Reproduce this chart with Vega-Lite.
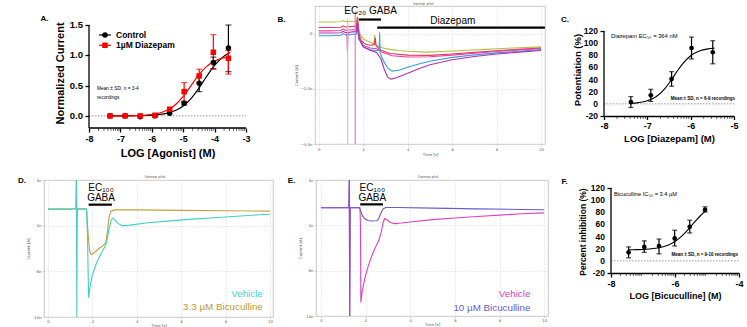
{
"$schema": "https://vega.github.io/schema/vega-lite/v6.json",
"padding": 0,
"background": "white",
"config": {"font": "Liberation Sans", "view": {"stroke": null}},
"datasets": {
"minor": [{"v":-7.699},{"v":-7.523},{"v":-7.398},{"v":-7.301},{"v":-7.222},{"v":-7.155},{"v":-7.097},{"v":-7.046},{"v":-6.699},{"v":-6.523},{"v":-6.398},{"v":-6.301},{"v":-6.222},{"v":-6.155},{"v":-6.097},{"v":-6.046},{"v":-5.699},{"v":-5.523},{"v":-5.398},{"v":-5.301},{"v":-5.222},{"v":-5.155},{"v":-5.097},{"v":-5.046},{"v":-4.699},{"v":-4.523},{"v":-4.398},{"v":-4.301},{"v":-4.222},{"v":-4.155},{"v":-4.097},{"v":-4.046},{"v":-3.699},{"v":-3.523},{"v":-3.398},{"v":-3.301},{"v":-3.222},{"v":-3.155},{"v":-3.097},{"v":-3.046}],
"pctLabels": [{"y":-20,"l":"-20"},{"y":0,"l":"0"},{"y":20,"l":"20"},{"y":40,"l":"40"},{"y":60,"l":"60"},{"y":80,"l":"80"},{"y":100,"l":"100"},{"y":120,"l":"120"}],
"A_pts": [{"x":-7.33,"y":0.0,"s":"Control"},{"x":-6.85,"y":0.0,"s":"Control"},{"x":-6.37,"y":-0.015,"s":"Control"},{"x":-5.9,"y":0.0,"s":"Control"},{"x":-5.43,"y":0.045,"s":"Control"},{"x":-4.97,"y":0.21,"s":"Control"},{"x":-4.49,"y":0.54,"s":"Control"},{"x":-4.04,"y":0.88,"s":"Control"},{"x":-3.56,"y":1.12,"s":"Control"},
{"x":-7.33,"y":0.0,"s":"1µM Diazepam"},{"x":-6.85,"y":0.0,"s":"1µM Diazepam"},{"x":-6.37,"y":0.0,"s":"1µM Diazepam"},{"x":-5.9,"y":0.01,"s":"1µM Diazepam"},{"x":-5.43,"y":0.11,"s":"1µM Diazepam"},{"x":-4.97,"y":0.4,"s":"1µM Diazepam"},{"x":-4.49,"y":0.66,"s":"1µM Diazepam"},{"x":-4.04,"y":1.05,"s":"1µM Diazepam"},{"x":-3.56,"y":0.95,"s":"1µM Diazepam"}],
"A_leg": [{"x":-7.49,"x1":-7.68,"x2":-7.3,"lx":-7.14,"y":1.335,"s":"Control"},{"x":-7.49,"x1":-7.68,"x2":-7.3,"lx":-7.14,"y":1.165,"s":"1µM Diazepam"}],
"A_err": [{"x":-4.97,"lo":0.18,"hi":0.24,"s":"Control"},{"x":-4.49,"lo":0.4,"hi":0.66,"s":"Control"},{"x":-4.04,"lo":0.78,"hi":0.97,"s":"Control"},{"x":-3.56,"lo":0.73,"hi":1.5,"s":"Control"},
{"x":-4.97,"lo":0.22,"hi":0.55,"s":"1µM Diazepam"},{"x":-4.49,"lo":0.55,"hi":0.77,"s":"1µM Diazepam"},{"x":-4.04,"lo":0.77,"hi":1.34,"s":"1µM Diazepam"},{"x":-3.56,"lo":0.69,"hi":1.08,"s":"1µM Diazepam"}],
"A_fit_c": [{"x":-7.4,"y":0.0},{"x":-7.0,"y":0.001},{"x":-6.5,"y":0.003},{"x":-6.0,"y":0.012},{"x":-5.75,"y":0.024},{"x":-5.5,"y":0.046},{"x":-5.25,"y":0.088},{"x":-5.0,"y":0.164},{"x":-4.75,"y":0.286},{"x":-4.5,"y":0.457},{"x":-4.25,"y":0.654},{"x":-4.0,"y":0.833},{"x":-3.75,"y":0.966},{"x":-3.5,"y":1.05}],
"A_fit_d": [{"x":-7.4,"y":0.0},{"x":-7.0,"y":0.001},{"x":-6.5,"y":0.005},{"x":-6.0,"y":0.023},{"x":-5.75,"y":0.048},{"x":-5.5,"y":0.096},{"x":-5.25,"y":0.183},{"x":-5.0,"y":0.321},{"x":-4.75,"y":0.5},{"x":-4.5,"y":0.679},{"x":-4.25,"y":0.817},{"x":-4.0,"y":0.904},{"x":-3.75,"y":0.952},{"x":-3.5,"y":0.976}],
"C_pts": [{"x":-7.38,"y":3,"lo":-6,"hi":12},{"x":-6.92,"y":14,"lo":4,"hi":24},{"x":-6.44,"y":41,"lo":29,"hi":53},{"x":-5.98,"y":92,"lo":74,"hi":110},{"x":-5.49,"y":85,"lo":66,"hi":104}],
"C_fit": [{"x":-7.4,"y":0.84},{"x":-7.2,"y":2.08},{"x":-7.0,"y":5.06},{"x":-6.8,"y":11.74},{"x":-6.6,"y":24.77},{"x":-6.5,"y":33.97},{"x":-6.4,"y":44.37},{"x":-6.3,"y":54.97},{"x":-6.2,"y":64.74},{"x":-6.0,"y":79.23},{"x":-5.8,"y":86.98},{"x":-5.6,"y":90.51},{"x":-5.45,"y":91.73}],
"F_pts": [{"x":-7.45,"y":14,"lo":5,"hi":23},{"x":-6.96,"y":23,"lo":14,"hi":33},{"x":-6.5,"y":24.5,"lo":11.5,"hi":36},{"x":-6.01,"y":37,"lo":24.5,"hi":50.5},{"x":-5.54,"y":56,"lo":46,"hi":67},{"x":-5.06,"y":84,"lo":80.5,"hi":89}],
"F_fit": [{"x":-7.45,"y":18.2},{"x":-7.2,"y":18.5},{"x":-7.0,"y":18.8},{"x":-6.8,"y":19.5},{"x":-6.6,"y":20.7},{"x":-6.4,"y":22.8},{"x":-6.2,"y":26.3},{"x":-6.0,"y":31.9},{"x":-5.8,"y":40.2},{"x":-5.6,"y":51.1},{"x":-5.4,"y":63.3},{"x":-5.2,"y":74.7},{"x":-5.05,"y":81.9}],
"B_tr": [
{"k":"yg","t":0,"v":0.42},{"k":"yg","t":0.5,"v":0.42},{"k":"yg","t":1.0,"v":0.43},{"k":"yg","t":1.1,"v":0.47},{"k":"yg","t":1.2,"v":0.44},{"k":"yg","t":1.7,"v":0.45},{"k":"yg","t":1.74,"v":0.62},{"k":"yg","t":1.78,"v":0.3},{"k":"yg","t":1.85,"v":0.0},{"k":"yg","t":2.0,"v":-0.2},{"k":"yg","t":2.3,"v":-0.3},{"k":"yg","t":2.48,"v":-0.37},{"k":"yg","t":2.52,"v":-0.05},{"k":"yg","t":2.56,"v":-0.4},{"k":"yg","t":2.7,"v":-0.46},{"k":"yg","t":2.9,"v":-0.52},{"k":"yg","t":3.2,"v":-0.57},{"k":"yg","t":3.6,"v":-0.61},{"k":"yg","t":4.0,"v":-0.64},{"k":"yg","t":4.8,"v":-0.67},{"k":"yg","t":5.5,"v":-0.65},{"k":"yg","t":6.5,"v":-0.61},{"k":"yg","t":7.5,"v":-0.57},{"k":"yg","t":8.5,"v":-0.53},{"k":"yg","t":9.5,"v":-0.5},{"k":"yg","t":10.0,"v":-0.48},
{"k":"red","t":0,"v":0.22},{"k":"red","t":0.5,"v":0.22},{"k":"red","t":1.0,"v":0.23},{"k":"red","t":1.1,"v":0.28},{"k":"red","t":1.2,"v":0.24},{"k":"red","t":1.7,"v":0.27},{"k":"red","t":1.74,"v":0.58},{"k":"red","t":1.78,"v":0.1},{"k":"red","t":1.9,"v":-0.25},{"k":"red","t":2.1,"v":-0.38},{"k":"red","t":2.3,"v":-0.42},{"k":"red","t":2.5,"v":-0.4},{"k":"red","t":2.54,"v":-0.15},{"k":"red","t":2.58,"v":-0.45},{"k":"red","t":2.8,"v":-0.6},{"k":"red","t":3.2,"v":-0.72},{"k":"red","t":4.0,"v":-0.78},{"k":"red","t":5.0,"v":-0.79},{"k":"red","t":6.0,"v":-0.74},{"k":"red","t":7.0,"v":-0.68},{"k":"red","t":8.0,"v":-0.62},{"k":"red","t":9.0,"v":-0.57},{"k":"red","t":10.0,"v":-0.52},
{"k":"hot","t":0,"v":0.1},{"k":"hot","t":0.5,"v":0.1},{"k":"hot","t":1.0,"v":0.11},{"k":"hot","t":1.1,"v":0.17},{"k":"hot","t":1.2,"v":0.12},{"k":"hot","t":1.7,"v":0.15},{"k":"hot","t":1.74,"v":0.5},{"k":"hot","t":1.8,"v":-0.1},{"k":"hot","t":2.0,"v":-0.42},{"k":"hot","t":2.3,"v":-0.52},{"k":"hot","t":2.6,"v":-0.55},{"k":"hot","t":2.8,"v":-0.66},{"k":"hot","t":3.3,"v":-0.8},{"k":"hot","t":4.0,"v":-0.85},{"k":"hot","t":5.0,"v":-0.84},{"k":"hot","t":6.0,"v":-0.78},{"k":"hot","t":7.0,"v":-0.71},{"k":"hot","t":8.0,"v":-0.65},{"k":"hot","t":9.0,"v":-0.59},{"k":"hot","t":10.0,"v":-0.55},
{"k":"blue","t":0,"v":-0.08},{"k":"blue","t":0.5,"v":-0.08},{"k":"blue","t":1.0,"v":-0.06},{"k":"blue","t":1.1,"v":0.0},{"k":"blue","t":1.2,"v":-0.05},{"k":"blue","t":1.7,"v":-0.02},{"k":"blue","t":1.74,"v":0.3},{"k":"blue","t":1.8,"v":-0.2},{"k":"blue","t":2.0,"v":-0.48},{"k":"blue","t":2.3,"v":-0.58},{"k":"blue","t":2.6,"v":-0.62},{"k":"blue","t":2.72,"v":-0.6},{"k":"blue","t":2.74,"v":0.05},{"k":"blue","t":2.76,"v":-0.7},{"k":"blue","t":2.9,"v":-0.98},{"k":"blue","t":3.1,"v":-1.24},{"k":"blue","t":3.3,"v":-1.36},{"k":"blue","t":3.6,"v":-1.33},{"k":"blue","t":4.0,"v":-1.22},{"k":"blue","t":4.5,"v":-1.1},{"k":"blue","t":5.0,"v":-1.0},{"k":"blue","t":6.0,"v":-0.86},{"k":"blue","t":7.0,"v":-0.77},{"k":"blue","t":8.0,"v":-0.7},{"k":"blue","t":9.0,"v":-0.64},{"k":"blue","t":10.0,"v":-0.58},
{"k":"pur","t":0,"v":0.02},{"k":"pur","t":0.5,"v":0.02},{"k":"pur","t":1.0,"v":0.03},{"k":"pur","t":1.1,"v":0.08},{"k":"pur","t":1.2,"v":0.04},{"k":"pur","t":1.27,"v":0.04},{"k":"pur","t":1.29,"v":-0.65},{"k":"pur","t":1.31,"v":0.04},{"k":"pur","t":1.7,"v":0.08},{"k":"pur","t":1.74,"v":0.4},{"k":"pur","t":1.8,"v":-0.15},{"k":"pur","t":2.0,"v":-0.48},{"k":"pur","t":2.3,"v":-0.6},{"k":"pur","t":2.6,"v":-0.68},{"k":"pur","t":2.8,"v":-0.92},{"k":"pur","t":2.95,"v":-1.3},{"k":"pur","t":3.1,"v":-1.58},{"k":"pur","t":3.25,"v":-1.65},{"k":"pur","t":3.5,"v":-1.6},{"k":"pur","t":4.0,"v":-1.44},{"k":"pur","t":4.5,"v":-1.27},{"k":"pur","t":5.0,"v":-1.13},{"k":"pur","t":6.0,"v":-0.95},{"k":"pur","t":7.0,"v":-0.83},{"k":"pur","t":8.0,"v":-0.74},{"k":"pur","t":9.0,"v":-0.67},{"k":"pur","t":10.0,"v":-0.61},
{"k":"art1","t":1.3,"v":0.55},{"k":"art1","t":1.3,"v":-4.0},
{"k":"art2","t":1.64,"v":0.8},{"k":"art2","t":1.64,"v":-4.0}],
"D_tr": [
{"k":"bic","t":0,"v":-0.55},{"k":"bic","t":1.0,"v":-0.55},{"k":"bic","t":1.26,"v":-0.5},{"k":"bic","t":1.28,"v":2.0},{"k":"bic","t":1.3,"v":-1.5},{"k":"bic","t":1.32,"v":-0.55},{"k":"bic","t":1.74,"v":-0.55},{"k":"bic","t":1.8,"v":-2.5},{"k":"bic","t":1.87,"v":-4.2},{"k":"bic","t":1.95,"v":-4.55},{"k":"bic","t":2.1,"v":-4.35},{"k":"bic","t":2.3,"v":-4.0},{"k":"bic","t":2.5,"v":-3.7},{"k":"bic","t":2.6,"v":-3.5},{"k":"bic","t":2.68,"v":-2.5},{"k":"bic","t":2.75,"v":-1.3},{"k":"bic","t":2.82,"v":-0.75},{"k":"bic","t":3.0,"v":-0.62},{"k":"bic","t":4.0,"v":-0.62},{"k":"bic","t":6.0,"v":-0.66},{"k":"bic","t":8.0,"v":-0.7},{"k":"bic","t":10.0,"v":-0.73},
{"k":"veh","t":0,"v":-0.55},{"k":"veh","t":1.0,"v":-0.55},{"k":"veh","t":1.26,"v":-0.5},{"k":"veh","t":1.28,"v":2.0},{"k":"veh","t":1.3,"v":-10.0},{"k":"veh","t":1.32,"v":-0.5},{"k":"veh","t":1.74,"v":-0.55},{"k":"veh","t":1.78,"v":-3.0},{"k":"veh","t":1.83,"v":-8.3},{"k":"veh","t":1.9,"v":-7.3},{"k":"veh","t":2.0,"v":-6.3},{"k":"veh","t":2.2,"v":-5.2},{"k":"veh","t":2.4,"v":-4.4},{"k":"veh","t":2.55,"v":-3.9},{"k":"veh","t":2.65,"v":-3.4},{"k":"veh","t":2.75,"v":-2.3},{"k":"veh","t":2.85,"v":-1.5},{"k":"veh","t":2.92,"v":-1.35},{"k":"veh","t":3.0,"v":-1.45},{"k":"veh","t":3.15,"v":-1.8},{"k":"veh","t":3.35,"v":-2.0},{"k":"veh","t":3.7,"v":-1.95},{"k":"veh","t":4.5,"v":-1.75},{"k":"veh","t":5.5,"v":-1.58},{"k":"veh","t":6.5,"v":-1.43},{"k":"veh","t":7.5,"v":-1.3},{"k":"veh","t":8.5,"v":-1.17},{"k":"veh","t":9.5,"v":-1.05},{"k":"veh","t":10.0,"v":-1.0}],
"E_tr": [
{"k":"veh","t":0,"v":-0.45},{"k":"veh","t":1.0,"v":-0.45},{"k":"veh","t":1.25,"v":-0.42},{"k":"veh","t":1.27,"v":2.0},{"k":"veh","t":1.29,"v":-10.0},{"k":"veh","t":1.31,"v":-0.45},{"k":"veh","t":1.75,"v":-0.45},{"k":"veh","t":1.77,"v":-2.0},{"k":"veh","t":1.79,"v":-8.8},{"k":"veh","t":1.85,"v":-7.8},{"k":"veh","t":2.0,"v":-6.4},{"k":"veh","t":2.15,"v":-5.4},{"k":"veh","t":2.3,"v":-4.6},{"k":"veh","t":2.45,"v":-3.9},{"k":"veh","t":2.6,"v":-3.3},{"k":"veh","t":2.7,"v":-2.6},{"k":"veh","t":2.78,"v":-1.8},{"k":"veh","t":2.85,"v":-1.4},{"k":"veh","t":2.95,"v":-1.5},{"k":"veh","t":3.1,"v":-1.75},{"k":"veh","t":3.3,"v":-1.85},{"k":"veh","t":3.6,"v":-1.8},{"k":"veh","t":4.0,"v":-1.7},{"k":"veh","t":5.0,"v":-1.5},{"k":"veh","t":6.0,"v":-1.35},{"k":"veh","t":7.0,"v":-1.22},{"k":"veh","t":8.0,"v":-1.1},{"k":"veh","t":9.0,"v":-0.98},{"k":"veh","t":10.0,"v":-0.9},
{"k":"bic","t":0,"v":-0.45},{"k":"bic","t":1.0,"v":-0.45},{"k":"bic","t":1.25,"v":-0.42},{"k":"bic","t":1.27,"v":2.0},{"k":"bic","t":1.29,"v":-10.0},{"k":"bic","t":1.31,"v":-0.45},{"k":"bic","t":1.72,"v":-0.45},{"k":"bic","t":1.78,"v":-0.7},{"k":"bic","t":1.85,"v":-1.1},{"k":"bic","t":1.95,"v":-1.4},{"k":"bic","t":2.1,"v":-1.58},{"k":"bic","t":2.3,"v":-1.62},{"k":"bic","t":2.5,"v":-1.6},{"k":"bic","t":2.58,"v":-1.45},{"k":"bic","t":2.68,"v":-0.95},{"k":"bic","t":2.78,"v":-0.55},{"k":"bic","t":2.9,"v":-0.42},{"k":"bic","t":3.5,"v":-0.42},{"k":"bic","t":5.0,"v":-0.48},{"k":"bic","t":7.0,"v":-0.55},{"k":"bic","t":9.0,"v":-0.6},{"k":"bic","t":10.0,"v":-0.62}]
},
"spacing": 2,
"resolve": {"scale": {"color": "independent", "shape": "independent"}, "legend": {"color": "independent", "shape": "independent"}},
"vconcat": [
{"hconcat": [
{
"width": 202, "height": 122,
"layer": [
{"data": {"values": [{"x": -10.8025, "y": 1.8796}, {"x": -2.5223, "y": -0.7447}]}, "mark": {"type": "text", "text": ".", "fontSize": 1, "opacity": 0},
 "encoding": {"x": {"field": "x", "type": "quantitative", "scale": {"domain": [-9.4331, -3], "nice": false, "zero": false}}, "y": {"field": "y", "type": "quantitative", "scale": {"domain": [-0.2, 1.8136], "nice": false, "zero": false}}}},
{"data": {"values": [{"x": -8, "x2": -3, "y": 0}]}, "mark": {"type": "rule", "strokeDash": [1.5, 1.5], "color": "#808080", "strokeWidth": 0.8},
 "encoding": {"x": {"field": "x", "type": "quantitative", "scale": {"domain": [-9.4331, -3], "nice": false, "zero": false}}, "x2": {"field": "x2"}, "y": {"field": "y", "type": "quantitative", "scale": {"domain": [-0.2, 1.8136], "nice": false, "zero": false}}}},
{"data": {"values": [{"x": -8, "x2": -3, "y": -0.2, "y2": -0.2}, {"x": -8, "x2": -8, "y": -0.2, "y2": 1.5}]}, "mark": {"type": "rule", "color": "black", "strokeWidth": 1.3},
 "encoding": {"x": {"field": "x", "type": "quantitative", "scale": {"domain": [-9.4331, -3], "nice": false, "zero": false}}, "x2": {"field": "x2"}, "y": {"field": "y", "type": "quantitative", "scale": {"domain": [-0.2, 1.8136], "nice": false, "zero": false}}, "y2": {"field": "y2"}}},
{"data": {"name": "minor"}, "mark": {"type": "tick", "orient": "vertical", "size": 3, "thickness": 0.8, "color": "black", "yOffset": 1.5},
 "encoding": {"x": {"field": "v", "type": "quantitative", "scale": {"domain": [-9.4331, -3], "nice": false, "zero": false}}, "y": {"datum": -0.2, "type": "quantitative", "scale": {"domain": [-0.2, 1.8136], "nice": false, "zero": false}}}},
{"data": {"values": [{"y": 0, "l": "0.0"}, {"y": 0.5, "l": "0.5"}, {"y": 1, "l": "1.0"}, {"y": 1.5, "l": "1.5"}]}, "mark": {"type": "text", "align": "right", "baseline": "middle", "dx": -6, "fontSize": 9.5, "fontWeight": "bold", "color": "black"},
 "encoding": {"x": {"datum": -8, "type": "quantitative", "scale": {"domain": [-9.4331, -3], "nice": false, "zero": false}}, "y": {"field": "y", "type": "quantitative", "scale": {"domain": [-0.2, 1.8136], "nice": false, "zero": false}}, "text": {"field": "l"}}},
{"data": {"name": "A_fit_c"}, "mark": {"type": "line", "color": "black", "strokeWidth": 1.2, "interpolate": "monotone"},
 "encoding": {
  "x": {"field": "x", "type": "quantitative", "scale": {"domain": [-9.4331, -3], "nice": false, "zero": false}, "axis": {"values": [-8, -7, -6, -5, -4, -3], "labelExpr": "'' + datum.value", "title": "LOG [Agonist] (M)", "titleX": 123.5, "domain": false, "tickColor": "black", "tickWidth": 1.3, "tickSize": 4, "labelFontSize": 9, "labelFontWeight": "bold", "labelColor": "black", "labelPadding": 2.5, "labelOverlap": false, "labelFlush": false, "titleFontSize": 11, "titleFontWeight": "bold", "titleColor": "black", "titlePadding": 4, "grid": false}},
  "y": {"field": "y", "type": "quantitative", "scale": {"domain": [-0.2, 1.8136], "nice": false, "zero": false}, "axis": {"values": [0, 0.5, 1, 1.5], "labels": false, "title": "Normalized Current", "titleY": 67, "offset": -45, "domain": false, "tickColor": "black", "tickWidth": 1.3, "tickSize": 4, "titleFontSize": 11, "titleFontWeight": "bold", "titleColor": "black", "titlePadding": 18.5, "grid": false}}}},
{"data": {"name": "A_fit_d"}, "mark": {"type": "line", "color": "#ff0000", "strokeWidth": 1.2, "interpolate": "monotone"},
 "encoding": {"x": {"field": "x", "type": "quantitative", "scale": {"domain": [-9.4331, -3], "nice": false, "zero": false}}, "y": {"field": "y", "type": "quantitative", "scale": {"domain": [-0.2, 1.8136], "nice": false, "zero": false}}}},
{"data": {"name": "A_leg"}, "mark": {"type": "rule", "strokeWidth": 1.2},
 "encoding": {"x": {"field": "x1", "type": "quantitative", "scale": {"domain": [-9.4331, -3], "nice": false, "zero": false}}, "x2": {"field": "x2"}, "y": {"field": "y", "type": "quantitative", "scale": {"domain": [-0.2, 1.8136], "nice": false, "zero": false}},
  "color": {"field": "s", "type": "nominal", "scale": {"domain": ["Control", "1µM Diazepam"], "range": ["black", "#ff0000"]}, "legend": null}}},
{"data": {"name": "A_err"}, "mark": {"type": "rule", "strokeWidth": 1.2},
 "encoding": {"x": {"field": "x", "type": "quantitative", "scale": {"domain": [-9.4331, -3], "nice": false, "zero": false}}, "y": {"field": "lo", "type": "quantitative", "scale": {"domain": [-0.2, 1.8136], "nice": false, "zero": false}}, "y2": {"field": "hi"},
  "color": {"field": "s", "type": "nominal", "scale": {"domain": ["Control", "1µM Diazepam"], "range": ["black", "#ff0000"]}, "legend": null}}},
{"data": {"name": "A_err"}, "mark": {"type": "tick", "orient": "horizontal", "size": 6, "thickness": 1.2},
 "encoding": {"x": {"field": "x", "type": "quantitative", "scale": {"domain": [-9.4331, -3], "nice": false, "zero": false}}, "y": {"field": "hi", "type": "quantitative", "scale": {"domain": [-0.2, 1.8136], "nice": false, "zero": false}},
  "color": {"field": "s", "type": "nominal", "scale": {"domain": ["Control", "1µM Diazepam"], "range": ["black", "#ff0000"]}, "legend": null}}},
{"data": {"name": "A_err"}, "mark": {"type": "tick", "orient": "horizontal", "size": 6, "thickness": 1.2},
 "encoding": {"x": {"field": "x", "type": "quantitative", "scale": {"domain": [-9.4331, -3], "nice": false, "zero": false}}, "y": {"field": "lo", "type": "quantitative", "scale": {"domain": [-0.2, 1.8136], "nice": false, "zero": false}},
  "color": {"field": "s", "type": "nominal", "scale": {"domain": ["Control", "1µM Diazepam"], "range": ["black", "#ff0000"]}, "legend": null}}},
{"data": {"name": "A_pts"}, "mark": {"type": "point", "filled": true, "size": 30, "opacity": 1},
 "encoding": {"x": {"field": "x", "type": "quantitative", "scale": {"domain": [-9.4331, -3], "nice": false, "zero": false}}, "y": {"field": "y", "type": "quantitative", "scale": {"domain": [-0.2, 1.8136], "nice": false, "zero": false}},
  "color": {"field": "s", "type": "nominal", "scale": {"domain": ["Control", "1µM Diazepam"], "range": ["black", "#ff0000"]}, "legend": null},
  "shape": {"field": "s", "type": "nominal", "scale": {"domain": ["Control", "1µM Diazepam"], "range": ["circle", "square"]}, "legend": null}}},
{"data": {"name": "A_leg"}, "mark": {"type": "point", "filled": true, "size": 30, "opacity": 1},
 "encoding": {"x": {"field": "x", "type": "quantitative", "scale": {"domain": [-9.4331, -3], "nice": false, "zero": false}}, "y": {"field": "y", "type": "quantitative", "scale": {"domain": [-0.2, 1.8136], "nice": false, "zero": false}},
  "color": {"field": "s", "type": "nominal", "scale": {"domain": ["Control", "1µM Diazepam"], "range": ["black", "#ff0000"]}, "legend": null},
  "shape": {"field": "s", "type": "nominal", "scale": {"domain": ["Control", "1µM Diazepam"], "range": ["circle", "square"]}, "legend": null}}},
{"data": {"name": "A_leg"}, "mark": {"type": "text", "align": "left", "baseline": "middle", "fontSize": 8.5, "fontWeight": "bold", "color": "black"},
 "encoding": {"x": {"field": "lx", "type": "quantitative", "scale": {"domain": [-9.4331, -3], "nice": false, "zero": false}}, "y": {"field": "y", "type": "quantitative", "scale": {"domain": [-0.2, 1.8136], "nice": false, "zero": false}}, "text": {"field": "s"}}},
{"data": {"values": [{"x": -7.745, "y": 0.444, "t": "Mean ± SD, n = 3-4"}, {"x": -7.745, "y": 0.295, "t": "recordings"}]}, "mark": {"type": "text", "align": "left", "baseline": "middle", "fontSize": 4.8, "color": "black"},
 "encoding": {"x": {"field": "x", "type": "quantitative", "scale": {"domain": [-9.4331, -3], "nice": false, "zero": false}}, "y": {"field": "y", "type": "quantitative", "scale": {"domain": [-0.2, 1.8136], "nice": false, "zero": false}}, "text": {"field": "t"}}},
{"data": {"values": [{"x": -9.417, "y": 1.591, "t": "A."}]}, "mark": {"type": "text", "align": "center", "baseline": "middle", "fontSize": 8, "fontWeight": "bold", "color": "black"},
 "encoding": {"x": {"field": "x", "type": "quantitative", "scale": {"domain": [-9.4331, -3], "nice": false, "zero": false}}, "y": {"field": "y", "type": "quantitative", "scale": {"domain": [-0.2, 1.8136], "nice": false, "zero": false}}, "text": {"field": "t"}}}
]
},
{
"width": 230, "height": 138,
"view": {"stroke": "#bdbdbd", "strokeWidth": 0.8},
"layer": [
{"data": {"values": [{"x": -2.42, "y": 1.1449}, {"x": 10.36, "y": -4.616}]}, "mark": {"type": "text", "text": ".", "fontSize": 1, "opacity": 0},
 "encoding": {"x": {"field": "x", "type": "quantitative", "scale": {"domain": [-0.17, 10.18], "nice": false, "zero": false}}, "y": {"field": "y", "type": "quantitative", "scale": {"domain": [-4, 1], "nice": false, "zero": false}}}},
{"data": {"name": "B_tr"}, "mark": {"type": "line", "strokeWidth": 1.1, "clip": true},
 "encoding": {
  "x": {"field": "t", "type": "quantitative", "scale": {"domain": [-0.17, 10.18], "nice": false, "zero": false}, "axis": {"values": [0,0.5,1,1.5,2,2.5,3,3.5,4,4.5,5,5.5,6,6.5,7,7.5,8,8.5,9,9.5,10], "labelExpr": "datum.value % 1 == 0 ? '' + datum.value : ''", "title": "Time [s]", "labelFont": "DejaVu Sans", "labelFontSize": 3.8, "labelColor": "#555", "labelOverlap": false, "labelFlush": false, "tickSize": 1.5, "tickColor": "#aaa", "tickWidth": 0.5, "domain": false, "grid": true, "gridDash": [1.5, 1.5], "gridColor": "#d6d6d6", "gridWidth": 0.6, "labelPadding": 1.5, "titleFont": "DejaVu Sans", "titleFontSize": 3.8, "titleFontWeight": "normal", "titleColor": "#555", "titlePadding": 1.5}},
  "y": {"field": "v", "type": "quantitative", "scale": {"domain": [-4, 1], "nice": false, "zero": false}, "axis": {"values": [1,0.5,0,-0.5,-1,-1.5,-2,-2.5,-3,-3.5,-4], "labelExpr": "datum.value == 0 ? '0' : (abs(datum.value) < 1 ? format(datum.value * 1000, 'd') + 'p' : format(datum.value, '.1f') + 'n')", "title": "Current [A]", "labelFont": "DejaVu Sans", "labelFontSize": 3.8, "labelColor": "#555", "labelOverlap": false, "labelFlush": false, "tickSize": 1.5, "tickColor": "#aaa", "tickWidth": 0.5, "domain": false, "grid": true, "gridDash": [1.5, 1.5], "gridColor": "#d6d6d6", "gridWidth": 0.6, "labelPadding": 1.5, "titleFont": "DejaVu Sans", "titleFontSize": 3.8, "titleFontWeight": "normal", "titleColor": "#555", "titlePadding": 2}},
  "color": {"field": "k", "type": "nominal", "scale": {"domain": ["yg", "red", "hot", "blue", "pur", "art1", "art2"], "range": ["#b7bf42", "#e8365f", "#ee3d9f", "#3d9de2", "#b12fae", "#f3a9cf", "#e070bd"]}, "legend": null}}},
{"data": {"values": [{"t": 1.8, "t2": 2.8, "v": 0.51}, {"t": 2.63, "t2": 10.18, "v": 0.22}]}, "mark": {"type": "rule", "strokeWidth": 2.2, "color": "black"},
 "encoding": {"x": {"field": "t", "type": "quantitative", "scale": {"domain": [-0.17, 10.18], "nice": false, "zero": false}}, "x2": {"field": "t2"}, "y": {"field": "v", "type": "quantitative", "scale": {"domain": [-4, 1], "nice": false, "zero": false}}}},
{"data": {"values": [{"t": 2.33, "v": 0.81, "s": "EC₂₀ GABA"}, {"t": 6.03, "v": 0.45, "s": "Diazepam"}]}, "mark": {"type": "text", "align": "center", "baseline": "middle", "fontSize": 10, "color": "black"},
 "encoding": {"x": {"field": "t", "type": "quantitative", "scale": {"domain": [-0.17, 10.18], "nice": false, "zero": false}}, "y": {"field": "v", "type": "quantitative", "scale": {"domain": [-4, 1], "nice": false, "zero": false}}, "text": {"field": "s"}}},
{"data": {"values": [{"t": 4.7, "v": 1.085, "s": "Sweep plot"}]}, "mark": {"type": "text", "align": "center", "baseline": "middle", "fontSize": 3.8, "font": "DejaVu Sans", "color": "#666"},
 "encoding": {"x": {"field": "t", "type": "quantitative", "scale": {"domain": [-0.17, 10.18], "nice": false, "zero": false}}, "y": {"field": "v", "type": "quantitative", "scale": {"domain": [-4, 1], "nice": false, "zero": false}}, "text": {"field": "s"}}},
{"data": {"values": [{"t": -1.677, "v": 0.493, "s": "B."}]}, "mark": {"type": "text", "align": "center", "baseline": "middle", "fontSize": 8, "fontWeight": "bold", "color": "black"},
 "encoding": {"x": {"field": "t", "type": "quantitative", "scale": {"domain": [-0.17, 10.18], "nice": false, "zero": false}}, "y": {"field": "v", "type": "quantitative", "scale": {"domain": [-4, 1], "nice": false, "zero": false}}, "text": {"field": "s"}}}
]
},
{
"width": 130, "height": 110,
"layer": [
{"data": {"values": [{"x": -9.177, "y": 167.78}, {"x": -4.584, "y": -94.12}]}, "mark": {"type": "text", "text": ".", "fontSize": 1, "opacity": 0},
 "encoding": {"x": {"field": "x", "type": "quantitative", "scale": {"domain": [-8, -5], "nice": false, "zero": false}}, "y": {"field": "y", "type": "quantitative", "scale": {"domain": [-20, 161.19], "nice": false, "zero": false}}}},
{"data": {"values": [{"x": -8, "x2": -5, "y": 0}]}, "mark": {"type": "rule", "strokeDash": [1.5, 1.5], "color": "#808080", "strokeWidth": 0.8},
 "encoding": {"x": {"field": "x", "type": "quantitative", "scale": {"domain": [-8, -5], "nice": false, "zero": false}}, "x2": {"field": "x2"}, "y": {"field": "y", "type": "quantitative", "scale": {"domain": [-20, 161.19], "nice": false, "zero": false}}}},
{"data": {"values": [{"x": -8, "y": -20, "y2": 120}]}, "mark": {"type": "rule", "color": "black", "strokeWidth": 1.3},
 "encoding": {"x": {"field": "x", "type": "quantitative", "scale": {"domain": [-8, -5], "nice": false, "zero": false}}, "y": {"field": "y", "type": "quantitative", "scale": {"domain": [-20, 161.19], "nice": false, "zero": false}}, "y2": {"field": "y2"}}},
{"data": {"name": "minor"}, "transform": [{"filter": "datum.v < -5"}], "mark": {"type": "tick", "orient": "vertical", "size": 3, "thickness": 0.8, "color": "black", "yOffset": 1.5},
 "encoding": {"x": {"field": "v", "type": "quantitative", "scale": {"domain": [-8, -5], "nice": false, "zero": false}}, "y": {"datum": -20, "type": "quantitative", "scale": {"domain": [-20, 161.19], "nice": false, "zero": false}}}},
{"data": {"name": "pctLabels"}, "mark": {"type": "text", "align": "right", "baseline": "middle", "dx": -6, "fontSize": 8.5, "fontWeight": "bold", "color": "black"},
 "encoding": {"x": {"datum": -8, "type": "quantitative", "scale": {"domain": [-8, -5], "nice": false, "zero": false}}, "y": {"field": "y", "type": "quantitative", "scale": {"domain": [-20, 161.19], "nice": false, "zero": false}}, "text": {"field": "l"}}},
{"data": {"name": "C_fit"}, "mark": {"type": "line", "color": "black", "strokeWidth": 1.1, "interpolate": "monotone"},
 "encoding": {
  "x": {"field": "x", "type": "quantitative", "scale": {"domain": [-8, -5], "nice": false, "zero": false}, "axis": {"values": [-8, -7, -6, -5], "labelExpr": "'' + datum.value", "title": "LOG [Diazepam] (M)", "domainColor": "black", "domainWidth": 1.3, "tickColor": "black", "tickWidth": 1.3, "tickSize": 3.5, "labelFontSize": 9, "labelFontWeight": "bold", "labelColor": "black", "labelPadding": 2, "labelOverlap": false, "labelFlush": false, "titleFontSize": 9.5, "titleFontWeight": "bold", "titleColor": "black", "titlePadding": 3, "grid": false}},
  "y": {"field": "y", "type": "quantitative", "scale": {"domain": [-20, 161.19], "nice": false, "zero": false}, "axis": {"values": [-20, 0, 20, 40, 60, 80, 100, 120], "labels": false, "title": "Potentiation (%)", "titleY": 63.5, "domain": false, "tickColor": "black", "tickWidth": 1.3, "tickSize": 4, "titleFontSize": 9.5, "titleFontWeight": "bold", "titleColor": "black", "titlePadding": 17, "grid": false}}}},
{"data": {"name": "C_pts"}, "mark": {"type": "rule", "strokeWidth": 1.2, "color": "black"},
 "encoding": {"x": {"field": "x", "type": "quantitative", "scale": {"domain": [-8, -5], "nice": false, "zero": false}}, "y": {"field": "lo", "type": "quantitative", "scale": {"domain": [-20, 161.19], "nice": false, "zero": false}}, "y2": {"field": "hi"}}},
{"data": {"name": "C_pts"}, "mark": {"type": "tick", "orient": "horizontal", "size": 5, "thickness": 1.2, "color": "black"},
 "encoding": {"x": {"field": "x", "type": "quantitative", "scale": {"domain": [-8, -5], "nice": false, "zero": false}}, "y": {"field": "hi", "type": "quantitative", "scale": {"domain": [-20, 161.19], "nice": false, "zero": false}}}},
{"data": {"name": "C_pts"}, "mark": {"type": "tick", "orient": "horizontal", "size": 5, "thickness": 1.2, "color": "black"},
 "encoding": {"x": {"field": "x", "type": "quantitative", "scale": {"domain": [-8, -5], "nice": false, "zero": false}}, "y": {"field": "lo", "type": "quantitative", "scale": {"domain": [-20, 161.19], "nice": false, "zero": false}}}},
{"data": {"name": "C_pts"}, "mark": {"type": "point", "filled": true, "size": 22, "opacity": 1, "color": "black", "shape": "circle"},
 "encoding": {"x": {"field": "x", "type": "quantitative", "scale": {"domain": [-8, -5], "nice": false, "zero": false}}, "y": {"field": "y", "type": "quantitative", "scale": {"domain": [-20, 161.19], "nice": false, "zero": false}}}},
{"data": {"values": [{"x": -7.838, "y": 111.3, "t": "Diazepam EC₅₀ = 364 nM"}]}, "mark": {"type": "text", "align": "left", "baseline": "middle", "fontSize": 5.8, "color": "black"},
 "encoding": {"x": {"field": "x", "type": "quantitative", "scale": {"domain": [-8, -5], "nice": false, "zero": false}}, "y": {"field": "y", "type": "quantitative", "scale": {"domain": [-20, 161.19], "nice": false, "zero": false}}, "text": {"field": "t"}}},
{"data": {"values": [{"x": -4.977, "y": 8.5, "t": "Mean ± SD, n = 6-9 recordings"}]}, "mark": {"type": "text", "align": "right", "baseline": "middle", "fontSize": 4.5, "fontWeight": "bold", "color": "black"},
 "encoding": {"x": {"field": "x", "type": "quantitative", "scale": {"domain": [-8, -5], "nice": false, "zero": false}}, "y": {"field": "y", "type": "quantitative", "scale": {"domain": [-20, 161.19], "nice": false, "zero": false}}, "text": {"field": "t"}}},
{"data": {"values": [{"x": -8.9, "y": 138.9, "t": "C."}]}, "mark": {"type": "text", "align": "center", "baseline": "middle", "fontSize": 8, "fontWeight": "bold", "color": "black"},
 "encoding": {"x": {"field": "x", "type": "quantitative", "scale": {"domain": [-8, -5], "nice": false, "zero": false}}, "y": {"field": "y", "type": "quantitative", "scale": {"domain": [-20, 161.19], "nice": false, "zero": false}}, "text": {"field": "t"}}}
]
}
], "spacing": 2, "resolve": {"scale": {"color": "independent", "shape": "independent"}, "legend": {"color": "independent", "shape": "independent"}}},
{"hconcat": [
{
"width": 229, "height": 137,
"view": {"stroke": "#bdbdbd", "strokeWidth": 0.8},
"layer": [
{"data": {"values": [{"x": -2.118, "y": 3.226}, {"x": 10.41, "y": -11.313}]}, "mark": {"type": "text", "text": ".", "fontSize": 1, "opacity": 0},
 "encoding": {"x": {"field": "x", "type": "quantitative", "scale": {"domain": [-0.18, 10.14], "nice": false, "zero": false}}, "y": {"field": "y", "type": "quantitative", "scale": {"domain": [-10, 2], "nice": false, "zero": false}}}},
{"data": {"name": "D_tr"}, "mark": {"type": "line", "strokeWidth": 1.1, "clip": true},
 "encoding": {
  "x": {"field": "t", "type": "quantitative", "scale": {"domain": [-0.18, 10.14], "nice": false, "zero": false}, "axis": {"values": [0,0.5,1,1.5,2,2.5,3,3.5,4,4.5,5,5.5,6,6.5,7,7.5,8,8.5,9,9.5,10], "labelExpr": "datum.value % 1 == 0 ? '' + datum.value : ''", "title": "Time [s]", "labelFont": "DejaVu Sans", "labelFontSize": 3.8, "labelColor": "#555", "labelOverlap": false, "labelFlush": false, "tickSize": 1.5, "tickColor": "#aaa", "tickWidth": 0.5, "domain": false, "grid": true, "gridDash": [1.5, 1.5], "gridColor": "#d6d6d6", "gridWidth": 0.6, "labelPadding": 1, "titleFont": "DejaVu Sans", "titleFontSize": 3.8, "titleFontWeight": "normal", "titleColor": "#555", "titlePadding": 0.5}},
  "y": {"field": "v", "type": "quantitative", "scale": {"domain": [-10, 2], "nice": false, "zero": false}, "axis": {"values": [2,1,0,-1,-2,-3,-4,-5,-6,-7,-8,-9,-10], "labelExpr": "datum.value == 0 ? '0' : (datum.value % 2 == 0 ? datum.value + 'n' : '')", "title": "Current [A]", "labelFont": "DejaVu Sans", "labelFontSize": 3.8, "labelColor": "#555", "labelOverlap": false, "labelFlush": false, "tickSize": 1.5, "tickColor": "#aaa", "tickWidth": 0.5, "domain": false, "grid": true, "gridDash": [1.5, 1.5], "gridColor": "#d6d6d6", "gridWidth": 0.6, "labelPadding": 1.5, "titleFont": "DejaVu Sans", "titleFontSize": 3.8, "titleFontWeight": "normal", "titleColor": "#555", "titlePadding": 2}},
  "color": {"field": "k", "type": "nominal", "scale": {"domain": ["bic", "veh"], "range": ["#c7a03a", "#43cfc3"]}, "legend": null}}},
{"data": {"values": [{"t": 1.83, "t2": 2.88, "v": -0.16}]}, "mark": {"type": "rule", "strokeWidth": 2.2, "color": "black"},
 "encoding": {"x": {"field": "t", "type": "quantitative", "scale": {"domain": [-0.18, 10.14], "nice": false, "zero": false}}, "x2": {"field": "t2"}, "y": {"field": "v", "type": "quantitative", "scale": {"domain": [-10, 2], "nice": false, "zero": false}}}},
{"data": {"values": [{"t": 2.39, "v": 1.33, "s": "EC₁₀₀"}, {"t": 2.39, "v": 0.4, "s": "GABA"}]}, "mark": {"type": "text", "align": "center", "baseline": "middle", "fontSize": 10, "color": "black"},
 "encoding": {"x": {"field": "t", "type": "quantitative", "scale": {"domain": [-0.18, 10.14], "nice": false, "zero": false}}, "y": {"field": "v", "type": "quantitative", "scale": {"domain": [-10, 2], "nice": false, "zero": false}}, "text": {"field": "s"}}},
{"data": {"values": [{"t": 9.68, "v": -7.96, "s": "Vehicle"}]}, "mark": {"type": "text", "align": "right", "baseline": "middle", "fontSize": 9.8, "color": "#3fd3cf"},
 "encoding": {"x": {"field": "t", "type": "quantitative", "scale": {"domain": [-0.18, 10.14], "nice": false, "zero": false}}, "y": {"field": "v", "type": "quantitative", "scale": {"domain": [-10, 2], "nice": false, "zero": false}}, "text": {"field": "s"}}},
{"data": {"values": [{"t": 9.68, "v": -9.12, "s": "3.3 µM Bicuculline"}]}, "mark": {"type": "text", "align": "right", "baseline": "middle", "fontSize": 9.8, "color": "#c09a2e"},
 "encoding": {"x": {"field": "t", "type": "quantitative", "scale": {"domain": [-0.18, 10.14], "nice": false, "zero": false}}, "y": {"field": "v", "type": "quantitative", "scale": {"domain": [-10, 2], "nice": false, "zero": false}}, "text": {"field": "s"}}},
{"data": {"values": [{"t": 4.82, "v": 2.29, "s": "Sweep plot"}]}, "mark": {"type": "text", "align": "center", "baseline": "middle", "fontSize": 3.8, "font": "DejaVu Sans", "color": "#666"},
 "encoding": {"x": {"field": "t", "type": "quantitative", "scale": {"domain": [-0.18, 10.14], "nice": false, "zero": false}}, "y": {"field": "v", "type": "quantitative", "scale": {"domain": [-10, 2], "nice": false, "zero": false}}, "text": {"field": "s"}}},
{"data": {"values": [{"t": -1.171, "v": 1.91, "s": "D."}]}, "mark": {"type": "text", "align": "center", "baseline": "middle", "fontSize": 8, "fontWeight": "bold", "color": "black"},
 "encoding": {"x": {"field": "t", "type": "quantitative", "scale": {"domain": [-0.18, 10.14], "nice": false, "zero": false}}, "y": {"field": "v", "type": "quantitative", "scale": {"domain": [-10, 2], "nice": false, "zero": false}}, "text": {"field": "s"}}}
]
},
{
"width": 232, "height": 136,
"view": {"stroke": "#bdbdbd", "strokeWidth": 0.8},
"layer": [
{"data": {"values": [{"x": -1.698, "y": 3.235}, {"x": 10.304, "y": -11.412}]}, "mark": {"type": "text", "text": ".", "fontSize": 1, "opacity": 0},
 "encoding": {"x": {"field": "x", "type": "quantitative", "scale": {"domain": [-0.22, 10.17], "nice": false, "zero": false}}, "y": {"field": "y", "type": "quantitative", "scale": {"domain": [-10, 2], "nice": false, "zero": false}}}},
{"data": {"name": "E_tr"}, "mark": {"type": "line", "strokeWidth": 1.1, "clip": true},
 "encoding": {
  "x": {"field": "t", "type": "quantitative", "scale": {"domain": [-0.22, 10.17], "nice": false, "zero": false}, "axis": {"values": [0,0.5,1,1.5,2,2.5,3,3.5,4,4.5,5,5.5,6,6.5,7,7.5,8,8.5,9,9.5,10], "labelExpr": "datum.value % 1 == 0 ? '' + datum.value : ''", "title": "Time [s]", "labelFont": "DejaVu Sans", "labelFontSize": 3.8, "labelColor": "#555", "labelOverlap": false, "labelFlush": false, "tickSize": 1.5, "tickColor": "#aaa", "tickWidth": 0.5, "domain": false, "grid": true, "gridDash": [1.5, 1.5], "gridColor": "#d6d6d6", "gridWidth": 0.6, "labelPadding": 1, "titleFont": "DejaVu Sans", "titleFontSize": 3.8, "titleFontWeight": "normal", "titleColor": "#555", "titlePadding": 0.5}},
  "y": {"field": "v", "type": "quantitative", "scale": {"domain": [-10, 2], "nice": false, "zero": false}, "axis": {"values": [2,1,0,-1,-2,-3,-4,-5,-6,-7,-8,-9,-10], "labelExpr": "datum.value == 0 ? '0' : (datum.value % 2 == 0 ? datum.value + 'n' : '')", "title": "Current [A]", "labelFont": "DejaVu Sans", "labelFontSize": 3.8, "labelColor": "#555", "labelOverlap": false, "labelFlush": false, "tickSize": 1.5, "tickColor": "#aaa", "tickWidth": 0.5, "domain": false, "grid": true, "gridDash": [1.5, 1.5], "gridColor": "#d6d6d6", "gridWidth": 0.6, "labelPadding": 1.5, "titleFont": "DejaVu Sans", "titleFontSize": 3.8, "titleFontWeight": "normal", "titleColor": "#555", "titlePadding": 2}},
  "color": {"field": "k", "type": "nominal", "scale": {"domain": ["veh", "bic"], "range": ["#e03fc2", "#6a5bd0"]}, "legend": null}}},
{"data": {"values": [{"t": 1.76, "t2": 2.78, "v": -0.15}]}, "mark": {"type": "rule", "strokeWidth": 2.2, "color": "black"},
 "encoding": {"x": {"field": "t", "type": "quantitative", "scale": {"domain": [-0.22, 10.17], "nice": false, "zero": false}}, "x2": {"field": "t2"}, "y": {"field": "v", "type": "quantitative", "scale": {"domain": [-10, 2], "nice": false, "zero": false}}}},
{"data": {"values": [{"t": 2.3, "v": 1.32, "s": "EC₁₀₀"}, {"t": 2.3, "v": 0.38, "s": "GABA"}]}, "mark": {"type": "text", "align": "center", "baseline": "middle", "fontSize": 10, "color": "black"},
 "encoding": {"x": {"field": "t", "type": "quantitative", "scale": {"domain": [-0.22, 10.17], "nice": false, "zero": false}}, "y": {"field": "v", "type": "quantitative", "scale": {"domain": [-10, 2], "nice": false, "zero": false}}, "text": {"field": "s"}}},
{"data": {"values": [{"t": 9.38, "v": -8.09, "s": "Vehicle"}]}, "mark": {"type": "text", "align": "right", "baseline": "middle", "fontSize": 9.8, "color": "#e03fc2"},
 "encoding": {"x": {"field": "t", "type": "quantitative", "scale": {"domain": [-0.22, 10.17], "nice": false, "zero": false}}, "y": {"field": "v", "type": "quantitative", "scale": {"domain": [-10, 2], "nice": false, "zero": false}}, "text": {"field": "s"}}},
{"data": {"values": [{"t": 9.38, "v": -9.27, "s": "10 µM Bicuculline"}]}, "mark": {"type": "text", "align": "right", "baseline": "middle", "fontSize": 9.8, "color": "#6a5bd0"},
 "encoding": {"x": {"field": "t", "type": "quantitative", "scale": {"domain": [-0.22, 10.17], "nice": false, "zero": false}}, "y": {"field": "v", "type": "quantitative", "scale": {"domain": [-10, 2], "nice": false, "zero": false}}, "text": {"field": "s"}}},
{"data": {"values": [{"t": 4.81, "v": 2.29, "s": "Sweep plot"}]}, "mark": {"type": "text", "align": "center", "baseline": "middle", "fontSize": 3.8, "font": "DejaVu Sans", "color": "#666"},
 "encoding": {"x": {"field": "t", "type": "quantitative", "scale": {"domain": [-0.22, 10.17], "nice": false, "zero": false}}, "y": {"field": "v", "type": "quantitative", "scale": {"domain": [-10, 2], "nice": false, "zero": false}}, "text": {"field": "s"}}},
{"data": {"values": [{"t": -1.317, "v": 1.87, "s": "E."}]}, "mark": {"type": "text", "align": "center", "baseline": "middle", "fontSize": 8, "fontWeight": "bold", "color": "black"},
 "encoding": {"x": {"field": "t", "type": "quantitative", "scale": {"domain": [-0.22, 10.17], "nice": false, "zero": false}}, "y": {"field": "v", "type": "quantitative", "scale": {"domain": [-10, 2], "nice": false, "zero": false}}, "text": {"field": "s"}}}
]
},
{
"width": 128, "height": 93,
"layer": [
{"data": {"values": [{"x": -9.75, "y": 156.25}, {"x": -3.594, "y": -117.18}]}, "mark": {"type": "text", "text": ".", "fontSize": 1, "opacity": 0},
 "encoding": {"x": {"field": "x", "type": "quantitative", "scale": {"domain": [-8, -4], "nice": false, "zero": false}}, "y": {"field": "y", "type": "quantitative", "scale": {"domain": [-20, 133.19], "nice": false, "zero": false}}}},
{"data": {"values": [{"x": -8, "x2": -4, "y": 0}]}, "mark": {"type": "rule", "strokeDash": [1.5, 1.5], "color": "#808080", "strokeWidth": 0.8},
 "encoding": {"x": {"field": "x", "type": "quantitative", "scale": {"domain": [-8, -4], "nice": false, "zero": false}}, "x2": {"field": "x2"}, "y": {"field": "y", "type": "quantitative", "scale": {"domain": [-20, 133.19], "nice": false, "zero": false}}}},
{"data": {"values": [{"x": -8, "y": -20, "y2": 120}]}, "mark": {"type": "rule", "color": "black", "strokeWidth": 1.3},
 "encoding": {"x": {"field": "x", "type": "quantitative", "scale": {"domain": [-8, -4], "nice": false, "zero": false}}, "y": {"field": "y", "type": "quantitative", "scale": {"domain": [-20, 133.19], "nice": false, "zero": false}}, "y2": {"field": "y2"}}},
{"data": {"name": "minor"}, "transform": [{"filter": "datum.v < -4"}], "mark": {"type": "tick", "orient": "vertical", "size": 3, "thickness": 0.8, "color": "black", "yOffset": 1.5},
 "encoding": {"x": {"field": "v", "type": "quantitative", "scale": {"domain": [-8, -4], "nice": false, "zero": false}}, "y": {"datum": -20, "type": "quantitative", "scale": {"domain": [-20, 133.19], "nice": false, "zero": false}}}},
{"data": {"name": "pctLabels"}, "mark": {"type": "text", "align": "right", "baseline": "middle", "dx": -6, "fontSize": 8.5, "fontWeight": "bold", "color": "black"},
 "encoding": {"x": {"datum": -8, "type": "quantitative", "scale": {"domain": [-8, -4], "nice": false, "zero": false}}, "y": {"field": "y", "type": "quantitative", "scale": {"domain": [-20, 133.19], "nice": false, "zero": false}}, "text": {"field": "l"}}},
{"data": {"name": "F_fit"}, "mark": {"type": "line", "color": "black", "strokeWidth": 1.1, "interpolate": "monotone"},
 "encoding": {
  "x": {"field": "x", "type": "quantitative", "scale": {"domain": [-8, -4], "nice": false, "zero": false}, "axis": {"values": [-8, -7, -6, -5, -4], "labelExpr": "'' + datum.value", "title": "LOG [Bicuculline] (M)", "domainColor": "black", "domainWidth": 1.3, "tickColor": "black", "tickWidth": 1.3, "tickSize": 4, "labelFontSize": 9, "labelFontWeight": "bold", "labelColor": "black", "labelPadding": 2.5, "labelOverlap": false, "labelFlush": false, "titleFontSize": 9, "titleFontWeight": "bold", "titleColor": "black", "titlePadding": 3, "grid": false}},
  "y": {"field": "y", "type": "quantitative", "scale": {"domain": [-20, 133.19], "nice": false, "zero": false}, "axis": {"values": [-20, 0, 20, 40, 60, 80, 100, 120], "labels": false, "title": "Percent inhibition (%)", "titleY": 51.5, "domain": false, "tickColor": "black", "tickWidth": 1.3, "tickSize": 4, "titleFontSize": 8.5, "titleFontWeight": "bold", "titleColor": "black", "titlePadding": 19, "grid": false}}}},
{"data": {"name": "F_pts"}, "mark": {"type": "rule", "strokeWidth": 1.2, "color": "black"},
 "encoding": {"x": {"field": "x", "type": "quantitative", "scale": {"domain": [-8, -4], "nice": false, "zero": false}}, "y": {"field": "lo", "type": "quantitative", "scale": {"domain": [-20, 133.19], "nice": false, "zero": false}}, "y2": {"field": "hi"}}},
{"data": {"name": "F_pts"}, "mark": {"type": "tick", "orient": "horizontal", "size": 5, "thickness": 1.2, "color": "black"},
 "encoding": {"x": {"field": "x", "type": "quantitative", "scale": {"domain": [-8, -4], "nice": false, "zero": false}}, "y": {"field": "hi", "type": "quantitative", "scale": {"domain": [-20, 133.19], "nice": false, "zero": false}}}},
{"data": {"name": "F_pts"}, "mark": {"type": "tick", "orient": "horizontal", "size": 5, "thickness": 1.2, "color": "black"},
 "encoding": {"x": {"field": "x", "type": "quantitative", "scale": {"domain": [-8, -4], "nice": false, "zero": false}}, "y": {"field": "lo", "type": "quantitative", "scale": {"domain": [-20, 133.19], "nice": false, "zero": false}}}},
{"data": {"name": "F_pts"}, "mark": {"type": "point", "filled": true, "size": 22, "opacity": 1, "color": "black", "shape": "circle"},
 "encoding": {"x": {"field": "x", "type": "quantitative", "scale": {"domain": [-8, -4], "nice": false, "zero": false}}, "y": {"field": "y", "type": "quantitative", "scale": {"domain": [-20, 133.19], "nice": false, "zero": false}}}},
{"data": {"values": [{"x": -7.906, "y": 109.6, "t": "Bicuculline IC₅₀ = 3.4 µM"}]}, "mark": {"type": "text", "align": "left", "baseline": "middle", "fontSize": 5.7, "color": "black"},
 "encoding": {"x": {"field": "x", "type": "quantitative", "scale": {"domain": [-8, -4], "nice": false, "zero": false}}, "y": {"field": "y", "type": "quantitative", "scale": {"domain": [-20, 133.19], "nice": false, "zero": false}}, "text": {"field": "t"}}},
{"data": {"values": [{"x": -4.03, "y": 9.6, "t": "Mean ± SD, n = 9-10 recordings"}]}, "mark": {"type": "text", "align": "right", "baseline": "middle", "fontSize": 4.5, "fontWeight": "bold", "color": "black"},
 "encoding": {"x": {"field": "x", "type": "quantitative", "scale": {"domain": [-8, -4], "nice": false, "zero": false}}, "y": {"field": "y", "type": "quantitative", "scale": {"domain": [-20, 133.19], "nice": false, "zero": false}}, "text": {"field": "t"}}},
{"data": {"values": [{"x": -9.453, "y": 129.9, "t": "F."}]}, "mark": {"type": "text", "align": "center", "baseline": "middle", "fontSize": 8, "fontWeight": "bold", "color": "black"},
 "encoding": {"x": {"field": "x", "type": "quantitative", "scale": {"domain": [-8, -4], "nice": false, "zero": false}}, "y": {"field": "y", "type": "quantitative", "scale": {"domain": [-20, 133.19], "nice": false, "zero": false}}, "text": {"field": "t"}}}
]
}
], "spacing": 2, "resolve": {"scale": {"color": "independent", "shape": "independent"}, "legend": {"color": "independent", "shape": "independent"}}}
]
}
